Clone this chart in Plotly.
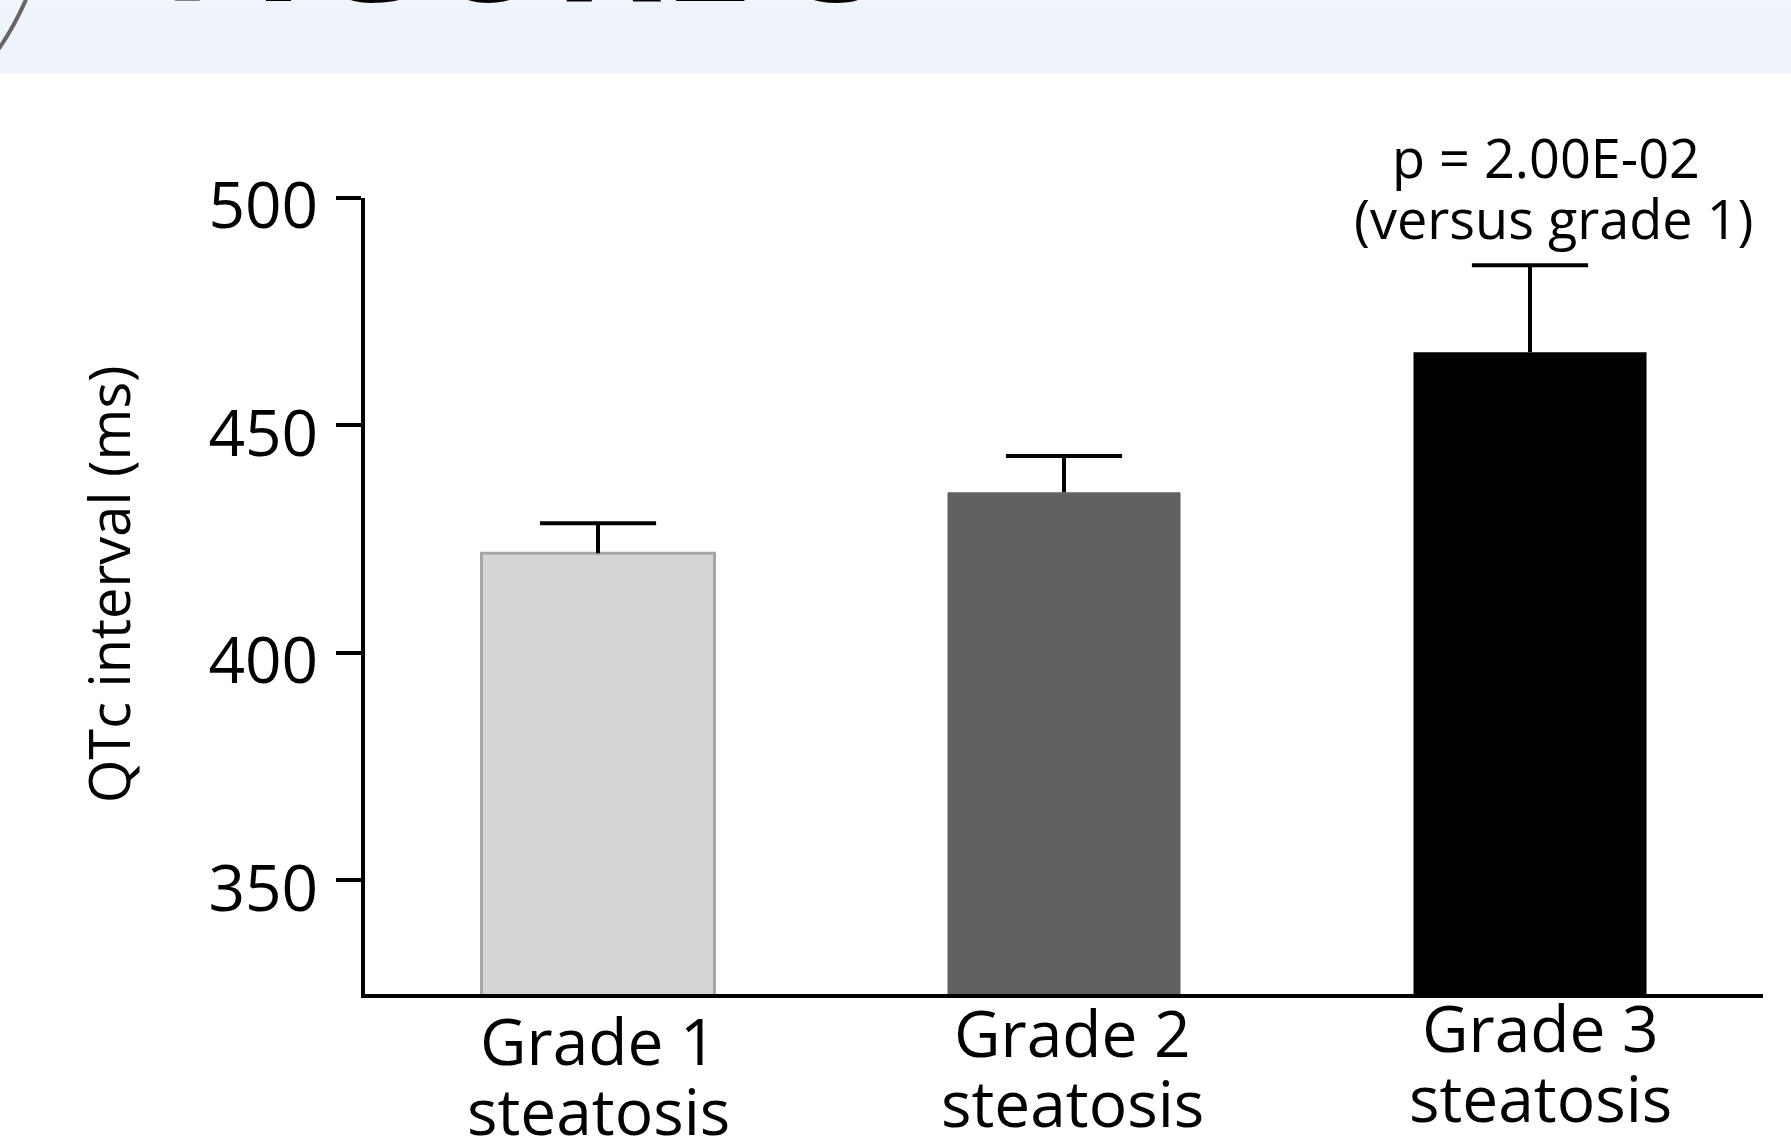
import plotly.graph_objects as go

# ---- data ----
categories = ["Grade 1 steatosis", "Grade 2 steatosis", "Grade 3 steatosis"]
label_line1 = ["Grade 1", "Grade 2", "Grade 3"]
label_line2 = ["steatosis", "steatosis", "steatosis"]
qtc_mean = [421.9, 435.3, 466.1]
qtc_err = [6.6, 8.0, 19.1]
y_ticks = [350, 400, 450, 500]
p_lines = ["p = 2.00E-02", "(versus grade 1)"]
y_title = "QTc interval (ms)"
header_text = "FIGURE 5"

# ---- styles ----
bar_colors = ["#D4D4D4", "#606060", "#000000"]
bar_line_colors = ["#A6A6A6", "#606060", "#000000"]
bar_line_widths = [3, 0, 0]
FONT = "Open Sans"

W, H = 1791, 1143
L, R, T, B = 365, 28, 197.5, 149
pw = W - L - R
ph = H - T - B


def px(x):
    return (x - L) / pw


def py(y):
    return (H - B - y) / ph


fig = go.Figure()
fig.add_trace(go.Bar(
    x=categories,
    y=qtc_mean,
    width=0.5,
    marker=dict(color=bar_colors, line=dict(color=bar_line_colors, width=bar_line_widths)),
    showlegend=False,
    hoverinfo="skip",
))

# upper error bars (stem + cap only, no lower cap), built from the data arrays
err_x, err_y = [], []
for c, m, e in zip(categories, qtc_mean, qtc_err):
    err_x += [c, c, None]
    err_y += [m, m + e, None]
fig.add_trace(go.Scatter(x=err_x, y=err_y, mode="lines", line=dict(color="black", width=4),
                         showlegend=False, hoverinfo="skip"))
fig.add_trace(go.Scatter(x=categories, y=[m + e for m, e in zip(qtc_mean, qtc_err)], mode="markers",
                         marker=dict(symbol="line-ew", size=83, color="black",
                                     line=dict(color="black", width=4)),
                         showlegend=False, hoverinfo="skip"))

annotations = []
# category labels (two lines each, per-label position as in original)
line1_baseline = [1065, 1057, 1052]
label_xshift = [0, 8, 10]
ls = 64
for i, cat in enumerate(categories):
    b1 = line1_baseline[i]
    b2 = b1 + 70
    annotations.append(dict(x=cat, xref="x", xshift=label_xshift[i], y=py(b1 - 0.388 * ls), yref="paper",
                            text=label_line1[i], showarrow=False, xanchor="center", yanchor="middle",
                            font=dict(family=FONT, size=ls, color="black")))
    annotations.append(dict(x=cat, xref="x", xshift=label_xshift[i], y=py(b2 - 0.388 * ls), yref="paper",
                            text=label_line2[i], showarrow=False, xanchor="center", yanchor="middle",
                            font=dict(family=FONT, size=ls, color="black")))

# p-value annotation above grade 3
ps = 54
annotations.append(dict(x=categories[2], xref="x", xshift=16, y=py(177 - 0.388 * ps), yref="paper",
                        text=p_lines[0], showarrow=False, xanchor="center", yanchor="middle",
                        font=dict(family=FONT, size=ps, color="black")))
annotations.append(dict(x=categories[2], xref="x", xshift=24, y=py(238 - 0.388 * ps), yref="paper",
                        text=p_lines[1], showarrow=False, xanchor="center", yanchor="middle",
                        font=dict(family=FONT, size=ps, color="black")))

# y-axis title
annotations.append(dict(x=px(108), xref="paper", y=py(584), yref="paper", text=y_title,
                        textangle=-90, showarrow=False, xanchor="center", yanchor="middle",
                        font=dict(family=FONT, size=56, color="black")))

# header text (cropped at top of page)
hs = 166
annotations.append(dict(x=px(158), xref="paper", y=py(3 + 0.293 * hs), yref="paper",
                        text="<b>" + header_text + "</b>", showarrow=False, xanchor="left", yanchor="bottom",
                        font=dict(family=FONT, size=hs, color="black")))

shapes = [
    dict(type="rect", xref="paper", yref="paper", x0=px(0), x1=px(W), y0=py(73), y1=py(0),
         fillcolor="#EFF4FC", line=dict(width=0), layer="below"),
    dict(type="path", xref="paper", yref="paper",
         path=f"M {px(-1)},{py(48)} Q {px(14)},{py(26)} {px(26)},{py(-1)}",
         line=dict(color="#666666", width=4)),
]

fig.update_layout(
    width=W, height=H,
    margin=dict(l=L, r=R, t=T, b=B, pad=0),
    paper_bgcolor="white", plot_bgcolor="white",
    annotations=annotations,
    shapes=shapes,
    xaxis=dict(type="category", range=[-0.5, 2.5], showticklabels=False, ticks="",
               showline=True, linecolor="black", linewidth=4, showgrid=False, zeroline=False,
               fixedrange=True),
    yaxis=dict(range=[325, 500], tickvals=y_ticks, ticks="outside", ticklen=25, tickwidth=4,
               tickcolor="black", showline=True, linecolor="black", linewidth=4,
               showgrid=False, zeroline=False, ticklabelstandoff=5, ticklabelshift=8,
               tickfont=dict(family=FONT, size=64, color="black"), fixedrange=True),
)

fig.write_html("out.html", config={"displayModeBar": False},
               post_script="document.body.style.margin='0';document.body.style.overflow='hidden';")
